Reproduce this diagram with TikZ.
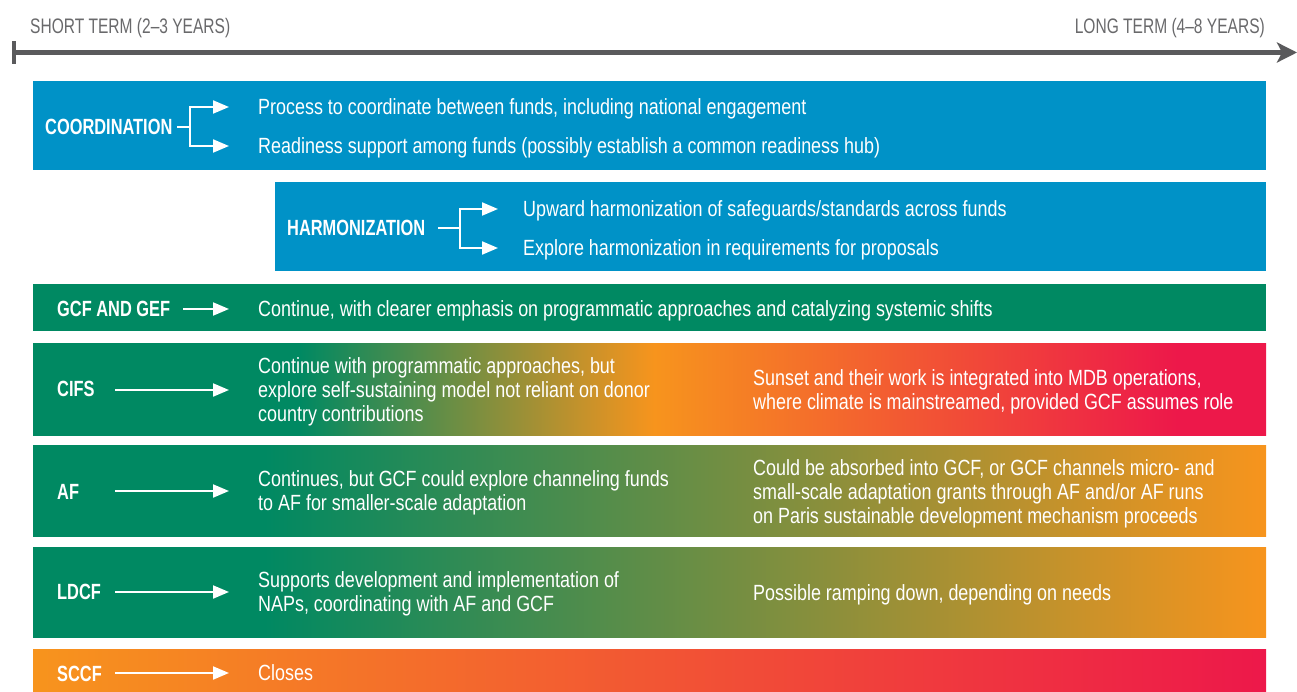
\documentclass[tikz,border=0pt]{standalone}
\usepackage{fontspec}
\setmainfont{Liberation Sans}[FakeStretch=0.815]
\newfontfamily\labelfont{Liberation Sans}[FakeStretch=0.745]
\newfontfamily\termfont{Liberation Sans}[FakeStretch=0.74]
\usepackage{xcolor}
\usepackage{tikz}
\usetikzlibrary{arrows.meta}
\definecolor{fundblue}{RGB}{0,146,199}
\definecolor{fundgreen}{RGB}{0,137,98}
\definecolor{fundorange}{RGB}{247,148,29}
\definecolor{fundred}{RGB}{237,24,74}
\definecolor{axisgray}{RGB}{90,90,92}
\definecolor{termgray}{RGB}{105,105,107}
% box spans 25bp--75bp of each shading
\pgfdeclarehorizontalshading{cifsfade}{100bp}{color(0bp)=(fundgreen); color(35.8bp)=(fundgreen); color(50.2bp)=(fundorange); color(71.4bp)=(fundred); color(100bp)=(fundred)}
\pgfdeclarehorizontalshading{slidefade}{100bp}{color(0bp)=(fundgreen); color(34.4bp)=(fundgreen); color(75bp)=(fundorange); color(100bp)=(fundorange)}
\tikzstyle{fund_l} = [anchor=west, inner sep=0pt, white, font=\fontsize{22}{24}\labelfont\bfseries]
\tikzstyle{fund_t} = [anchor=west, inner sep=0pt, text depth=0pt, white, align=left, font=\fontsize{22}{24}\selectfont]
\tikzstyle{term_t} = [inner sep=0pt, text=termgray, font=\fontsize{21}{24}\termfont]
\tikzstyle{flow} = [draw=white, line width=2pt, -{Triangle[length=16pt,width=13pt]}]

\begin{document}
\begin{tikzpicture}[x=1pt,y=-1pt]
\useasboundingbox (0,0) rectangle (1297,692);

% time axis
\node [term_t, anchor=west] (short) at (30,28) {SHORT TERM (2–3 YEARS)};
\node [term_t, anchor=east] (long) at (1265,28) {LONG TERM (4–8 YEARS)};
\coordinate (axis_s) at (11.5,52.5);
\coordinate (axis_e) at (1297,52.5);
\draw [axisgray, line width=4.5pt, {Bar[width=23pt]}-{Stealth[length=20pt,width=20pt,inset=5pt]}] (axis_s) -- (axis_e);

% bars
\fill [fundblue] (33,81) rectangle (1266,170);
\fill [fundblue] (275,182) rectangle (1266,271);
\fill [fundgreen] (33,284) rectangle (1266,331);
\shade [shading=cifsfade] (33,343) rectangle (1266,435);
\shade [shading=slidefade] (33,445) rectangle (1266,536);
\shade [shading=slidefade] (33,547) rectangle (1266,637);
\shade [left color=fundorange, right color=fundred] (33,649) rectangle (1266,692);

% coordination
\node [fund_l] (coordination) at (45,127) {COORDINATION};
\node [fund_t] (coord_a) at (258,107) {Process to coordinate between funds, including national engagement};
\node [fund_t] (coord_b) at (258,146) {Readiness support among funds (possibly establish a common readiness hub)};
\coordinate (coord_s) at (177,127);
\draw [flow, shorten >=29pt] (coord_s) -- ++(13,0) |- (coord_a.west);
\draw [flow, shorten >=29pt] (coord_s) -- ++(13,0) |- (coord_b.west);

% harmonization
\node [fund_l] (harmonization) at (287,228) {HARMONIZATION};
\node [fund_t] (harm_a) at (523,209) {Upward harmonization of safeguards/standards across funds};
\node [fund_t] (harm_b) at (523,248) {Explore harmonization in requirements for proposals};
\coordinate (harm_s) at (438,228);
\draw [flow, shorten >=25pt] (harm_s) -- ++(22,0) |- (harm_a.west);
\draw [flow, shorten >=25pt] (harm_s) -- ++(22,0) |- (harm_b.west);

% funds
\node [fund_l] (gcfgef) at (57,309) {GCF AND GEF};
\node [fund_t] (gcfgef_t) at (258,309) {Continue, with clearer emphasis on programmatic approaches and catalyzing systemic shifts};
\coordinate (gcfgef_s) at (183,309);
\draw [flow, shorten >=29pt] (gcfgef_s) -- (gcfgef_t.west);

\node [fund_l] (cifs) at (57,389) {CIFS};
\node [fund_t] (cifs_t) at (258,390) {Continue with programmatic approaches, but\\explore self-sustaining model not reliant on donor\\country contributions};
\node [fund_t] (cifs_l) at (753,390) {Sunset and their work is integrated into MDB operations,\\where climate is mainstreamed, provided GCF assumes role};
\coordinate (cifs_s) at (115,390);
\draw [flow, shorten >=29pt] (cifs_s) -- (cifs_t.west);

\node [fund_l] (af) at (57,492) {AF};
\node [fund_t] (af_t) at (258,491) {Continues, but GCF could explore channeling funds\\to AF for smaller-scale adaptation};
\node [fund_t] (af_l) at (753,492) {Could be absorbed into GCF, or GCF channels micro- and\\small-scale adaptation grants through AF and/or AF runs\\on Paris sustainable development mechanism proceeds};
\coordinate (af_s) at (115,491);
\draw [flow, shorten >=29pt] (af_s) -- (af_t.west);

\node [fund_l] (ldcf) at (57,592) {LDCF};
\node [fund_t] (ldcf_t) at (258,592) {Supports development and implementation of\\NAPs, coordinating with AF and GCF};
\node [fund_t] (ldcf_l) at (753,593) {Possible ramping down, depending on needs};
\coordinate (ldcf_s) at (115,592);
\draw [flow, shorten >=29pt] (ldcf_s) -- (ldcf_t.west);

\node [fund_l] (sccf) at (57,674) {SCCF};
\node [fund_t] (sccf_t) at (258,673) {Closes};
\coordinate (sccf_s) at (115,673);
\draw [flow, shorten >=29pt] (sccf_s) -- (sccf_t.west);
\end{tikzpicture}
\end{document}
